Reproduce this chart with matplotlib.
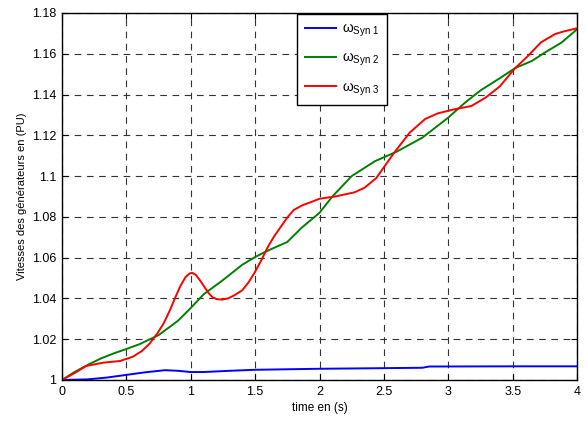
import matplotlib
matplotlib.use("Agg")
import matplotlib.pyplot as plt
from matplotlib.ticker import FuncFormatter

plt.rcParams["font.family"] = ["Liberation Sans", "DejaVu Sans"]
plt.rcParams["mathtext.fontset"] = "custom"
plt.rcParams["mathtext.rm"] = "Liberation Sans"
plt.rcParams["mathtext.it"] = "Liberation Sans:italic"

# values
t_syn1 = [0, 0.2, 0.35, 0.5, 0.65, 0.8, 0.9, 1.0, 1.1, 1.3, 1.5, 2.0, 2.5,
          2.8, 2.85, 3.5, 4.0]
w_syn1 = [1.0, 1.0003, 1.0012, 1.0025, 1.0038, 1.0048, 1.0045, 1.0039, 1.0039,
          1.0045, 1.005, 1.0055, 1.0058, 1.006, 1.0066, 1.0067, 1.0067]

t_syn2 = [0, 0.1, 0.2, 0.3, 0.4, 0.5, 0.6, 0.75, 0.9, 1.0, 1.1, 1.25, 1.4, 1.5,
          1.6, 1.75, 1.86, 2.0, 2.1, 2.25, 2.43, 2.6, 2.8, 3.0, 3.13, 3.25,
          3.4, 3.52, 3.65, 3.75, 3.88, 4.0]
w_syn2 = [1.0, 1.004, 1.0074, 1.0105, 1.013, 1.0152, 1.0175, 1.022, 1.029,
          1.0353, 1.042, 1.049, 1.0565, 1.0603, 1.0635, 1.0677, 1.0746, 1.082,
          1.090, 1.100, 1.1073, 1.112, 1.1189, 1.1287, 1.136, 1.142, 1.148,
          1.153, 1.1565, 1.1606, 1.1655, 1.172]

t_syn3 = [0, 0.1, 0.19, 0.32, 0.45, 0.55, 0.62, 0.68, 0.74, 0.79, 0.84, 0.88,
          0.92, 0.96, 0.99, 1.01, 1.04, 1.07, 1.1, 1.14, 1.17, 1.2, 1.24,
          1.29, 1.34, 1.4, 1.45, 1.5, 1.55, 1.6, 1.65, 1.7, 1.75, 1.8, 1.87,
          1.94, 2.0, 2.12, 2.27, 2.35, 2.44, 2.58, 2.7, 2.82, 2.92, 3.05,
          3.18, 3.29, 3.4, 3.52, 3.62, 3.72, 3.83, 3.9, 4.0]
w_syn3 = [1.0, 1.0035, 1.0069, 1.0085, 1.0093, 1.0114, 1.0142, 1.0178, 1.0228,
          1.0278, 1.0345, 1.0405, 1.0462, 1.0505, 1.0522, 1.0526, 1.0515,
          1.049, 1.0462, 1.0425, 1.0405, 1.0397, 1.0394, 1.04, 1.0416, 1.044,
          1.048, 1.0531, 1.059, 1.0654, 1.0707, 1.0752, 1.0797, 1.0834,
          1.0858, 1.0874, 1.0889, 1.090, 1.092, 1.0943, 1.099, 1.1115, 1.1213,
          1.128, 1.1308, 1.1328, 1.1344, 1.1385, 1.144, 1.153, 1.159, 1.1656,
          1.1697, 1.171, 1.1725]

labels = ["ω$_{\\mathrm{Syn\\ 1}}$", "ω$_{\\mathrm{Syn\\ 2}}$",
          "ω$_{\\mathrm{Syn\\ 3}}$"]
x_ticks = [0, 0.5, 1, 1.5, 2, 2.5, 3, 3.5, 4]
y_ticks = [1, 1.02, 1.04, 1.06, 1.08, 1.1, 1.12, 1.14, 1.16, 1.18]

fig = plt.figure(figsize=(5.87, 4.23), dpi=100)
ax = fig.add_axes([0.1056, 0.1017, 0.8774, 0.8676])

ax.plot(t_syn1, w_syn1, color="#0000ff", lw=1.4, label=labels[0])
ax.plot(t_syn2, w_syn2, color="#008000", lw=1.4, label=labels[1])
ax.plot(t_syn3, w_syn3, color="#ff0000", lw=1.4, label=labels[2])

ax.set_xlim(0, 4)
ax.set_ylim(1, 1.18)
ax.set_xticks(x_ticks)
ax.set_yticks(y_ticks)
ax.xaxis.set_major_formatter(FuncFormatter(lambda v, p: f"{v:g}"))
ax.yaxis.set_major_formatter(FuncFormatter(lambda v, p: f"{v:g}"))
ax.tick_params(direction="in", top=True, right=True, labelsize=9, length=4,
               pad=4)
ax.grid(True, color="0.2", ls=(0, (6, 5)), lw=0.8)
for s in ax.spines.values():
    s.set_linewidth(1.0)

ax.set_xlabel("time en (s)", fontsize=8.5, labelpad=3)
ax.set_ylabel("Vitesses des générateurs en (PU)", fontsize=8, labelpad=4)

leg = ax.legend(loc="upper left", bbox_to_anchor=(0.457, 0.997), fontsize=10,
                fancybox=False, framealpha=1, edgecolor="black",
                borderaxespad=0, handlelength=2.2, handletextpad=0.5,
                labelspacing=0.85, borderpad=0.55)
leg.get_frame().set_linewidth(1.0)

fig.savefig("out.png", dpi=100)
